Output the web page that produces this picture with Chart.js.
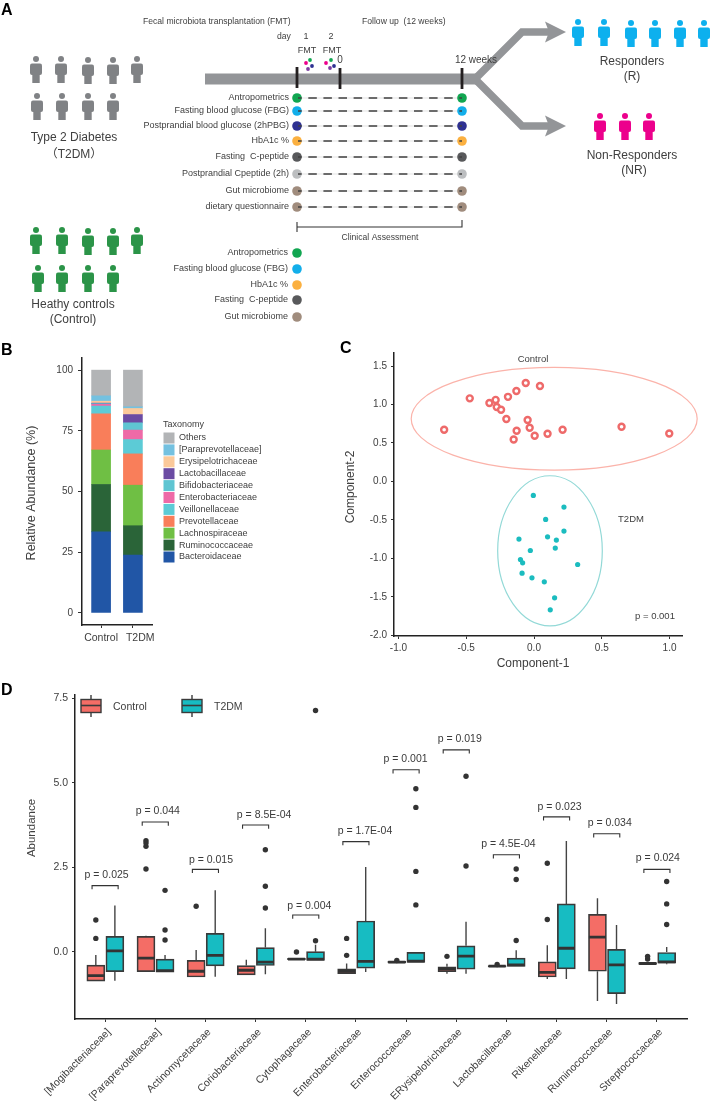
<!DOCTYPE html>
<html lang="en">
<head>
  <meta charset="UTF-8">
  <title>FMT study overview</title>
  <script src="https://cdn.jsdelivr.net/npm/chart.js"></script>
  <style>
    html, body { margin: 0; padding: 0; background: #fff; }
    #page { position: relative; width: 710px; height: 1101px; overflow: hidden; }
    canvas { position: absolute; }
  </style>
</head>
<body>
  <div id="page">
    <canvas id="panelA" width="710" height="335" style="left:0;top:0"></canvas>
    <canvas id="panelB" width="340" height="330" style="left:0;top:335px"></canvas>
    <canvas id="panelC" width="370" height="345" style="left:340px;top:335px"></canvas>
    <canvas id="panelD" width="710" height="421" style="left:0;top:680px"></canvas>
  </div>
  <script>
    const FONT = '"Liberation Sans", "Noto Sans CJK SC", Arial, sans-serif';
    const TEXT = '#404040';

    // panel A
    const t2dmPeople = [[36, 70], [61, 70], [88, 71], [113, 71], [137, 70], [37, 107], [62, 107], [88, 107], [113, 107]];
    const controlPeople = [[36, 241], [62, 241], [88, 242], [113, 242], [137, 241], [38, 279], [62, 279], [88, 279], [113, 279]];
    const responderPeople = [[578, 33], [604, 33], [631, 34], [655, 34], [680, 34], [704, 34]];
    const nonResponderPeople = [[600, 127], [625, 127], [649, 127]];
    const visitLabels = ['Antropometrics', 'Fasting blood glucose (FBG)', 'Postprandial blood glucose (2hPBG)', 'HbA1c %', 'Fasting  C-peptide', 'Postprandial Cpeptide (2h)', 'Gut microbiome', 'dietary questionnaire'];
    const visitRows = [98, 111, 126, 141, 157, 174, 191, 207];
    const visitColors = ['#11a651', '#12aeea', '#2e3192', '#fbb040', '#58595b', '#bcbec0', '#a08c7d', '#a08c7d'];
    const baselineLabels = ['Antropometrics', 'Fasting blood glucose (FBG)', 'HbA1c %', 'Fasting  C-peptide', 'Gut microbiome'];
    const baselineRows = [253, 269, 285, 300, 317];
    const baselineColors = ['#11a651', '#12aeea', '#fbb040', '#58595b', '#a08c7d'];
    const timelineTicks = [[297, 67, 88], [340, 68, 89], [462, 68, 89]];
    const pillPoints = [[306, 63], [310, 60], [308, 69], [312, 66], [326, 63], [331, 60], [330, 68], [334, 66]];
    const pillColors = ['#ec008c', '#11a651', '#7b3fa0', '#2e3192', '#ec008c', '#11a651', '#7b3fa0', '#2e3192'];

    // panel B
    const abundanceGroups = ['Control', 'T2DM'];
    const taxa = ['Bacteroidaceae', 'Ruminococcaceae', 'Lachnospiraceae', 'Prevotellaceae', 'Veillonellaceae', 'Enterobacteriaceae', 'Bifidobacteriaceae', 'Lactobacillaceae', 'Erysipelotrichaceae', '[Paraprevotellaceae]', 'Others'];
    const taxaControl = [33.4, 19.5, 14.2, 14.9, 3.2, 0.7, 0.3, 0.2, 0.8, 2.2, 10.6];
    const taxaT2dm = [23.8, 12.1, 16.7, 12.9, 5.9, 3.9, 3.0, 3.4, 2.5, 0.7, 15.1];
    const taxaColors = ['#2156a6', '#2a6438', '#6fbf44', '#f97e5a', '#5ccbd6', '#ee6aa7', '#5fc5d2', '#6b4ba3', '#fbc99a', '#74c1e0', '#b2b4b6'];

    // panel C
    const controlX = [-0.663, -0.474, -0.329, -0.283, -0.275, -0.243, -0.192, -0.204, -0.13, -0.061, 0.044, -0.047, -0.032, -0.128, -0.15, 0.005, 0.10, 0.211, 0.646, 0.998];
    const controlY = [0.672, 1.08, 1.02, 1.06, 0.967, 0.932, 1.10, 0.811, 1.175, 1.279, 1.24, 0.798, 0.698, 0.659, 0.546, 0.594, 0.62, 0.672, 0.711, 0.624];
    const t2dmX = [-0.005, 0.221, 0.086, 0.221, -0.111, 0.10, 0.165, 0.157, -0.027, -0.10, -0.084, 0.322, -0.088, -0.015, 0.076, 0.152, 0.12];
    const t2dmY = [-0.182, -0.334, -0.494, -0.646, -0.75, -0.72, -0.763, -0.867, -0.898, -1.015, -1.058, -1.08, -1.193, -1.253, -1.305, -1.513, -1.67];
    const controlEllipse = [0.149, 0.815, 1.055, 0.668];
    const t2dmEllipse = [0.118, -0.902, 0.386, 0.976];

    // panel D
    const families = ['[Mogibacteriaceae]', '[Paraprevotellaceae]', 'Actinomycetaceae', 'Coriobacteriaceae', 'Cytophagaceae', 'Enterobacteriaceae', 'Enterococcaceae', 'ERysipelotrichaceae', 'Lactobacillaceae', 'Rikenellaceae', 'Ruminococcaceae', 'Streptococcaceae'];
    const ctlLow = [-0.86, -0.58, -0.74, -0.68, -0.23, -0.64, -0.32, -0.64, -0.44, -0.80, -1.45, -0.37];
    const ctlQ1 = [-0.86, -0.58, -0.74, -0.68, -0.23, -0.64, -0.32, -0.58, -0.44, -0.74, -0.57, -0.37];
    const ctlMed = [-0.70, -0.18, -0.57, -0.54, -0.21, -0.57, -0.30, -0.50, -0.42, -0.60, 0.44, -0.34];
    const ctlQ3 = [-0.39, 0.46, -0.25, -0.40, -0.19, -0.50, -0.28, -0.44, -0.40, -0.29, 1.11, -0.31];
    const ctlHigh = [-0.09, 0.48, 0.06, -0.23, -0.19, -0.34, -0.28, -0.35, -0.38, 0.20, 1.59, -0.31];
    const ctlOut = [[0.40, 0.945], [2.45, 3.12, 3.22, 3.29], [1.35], [], [0.0], [-0.10, 0.40], [-0.25], [-0.13], [-0.37], [0.96, 2.62], [], [-0.21, -0.13]];
    const t2dLow = [-0.85, -0.60, -0.73, -0.66, -0.25, -0.59, -0.31, -0.64, -0.43, -0.80, -1.54, -0.36];
    const t2dQ1 = [-0.58, -0.60, -0.41, -0.40, -0.25, -0.48, -0.31, -0.51, -0.43, -0.50, -1.23, -0.33];
    const t2dMed = [0.03, -0.55, -0.10, -0.30, -0.21, -0.28, -0.27, -0.12, -0.38, 0.11, -0.38, -0.29];
    const t2dQ3 = [0.46, -0.21, 0.55, 0.13, 0.01, 0.915, -0.01, 0.18, -0.18, 1.42, 0.08, 0.0];
    const t2dHigh = [1.37, -0.09, 1.82, 0.70, 0.21, 2.51, -0.01, 0.89, 0.05, 3.28, 0.80, 0.15];
    const t2dOut = [[], [0.354, 0.65, 1.82], [], [1.30, 1.94, 3.02], [0.33, 7.13], [], [1.39, 2.38, 4.27, 4.82], [2.54, 5.19], [0.34, 2.14, 2.45], [], [], [0.81, 1.42, 2.08]];
    const pValues = ['p = 0.025', 'p = 0.044', 'p = 0.015', 'p = 8.5E-04', 'p = 0.004', 'p = 1.7E-04', 'p = 0.001', 'p = 0.019', 'p = 4.5E-04', 'p = 0.023', 'p = 0.034', 'p = 0.024'];
    const bracketY = [1.96, 3.84, 2.44, 3.75, 1.09, 3.26, 5.38, 5.97, 2.87, 3.99, 3.49, 2.44];
    const pLabelY = [2.26, 4.15, 2.72, 4.05, 1.35, 3.57, 5.69, 6.30, 3.18, 4.28, 3.82, 2.76];
    const pLabelShift = [0.03, 0.05, 0.11, 0.17, 0.07, 0.18, -0.01, 0.07, 0.04, 0.06, 0.06, 0.02];

    function xy(pairs) {
      return pairs.map(p => ({ x: p[0], y: p[1] }));
    }

    // canvas images used as point styles
    function personIcon(color) {
      const c = document.createElement('canvas');
      c.width = 14; c.height = 28;
      const g = c.getContext('2d');
      g.fillStyle = color;
      g.beginPath(); g.arc(7, 3, 3, 0, Math.PI * 2); g.fill();
      g.beginPath(); g.roundRect(1, 7.5, 12, 11.5, 2); g.fill();
      g.fillRect(3.3, 17, 7.4, 10);
      return c;
    }

    function arrowIcon() {
      const c = document.createElement('canvas');
      c.width = 22; c.height = 22;
      const g = c.getContext('2d');
      g.fillStyle = '#939598';
      g.beginPath();
      g.moveTo(0, 0.5); g.lineTo(21, 11); g.lineTo(0, 21.5); g.lineTo(4, 11);
      g.closePath(); g.fill();
      return c;
    }

    function peopleSet(points, color) {
      return { data: xy(points), pointStyle: personIcon(color), pointRadius: 5, clip: false };
    }

    function lineSet(points, color, width, extra) {
      return Object.assign({
        data: points, showLine: true, borderColor: color, borderWidth: width,
        pointRadius: 0, borderJoinStyle: 'miter', borderCapStyle: 'butt', tension: 0
      }, extra || {});
    }

    // text drawn on the finished chart, position in canvas pixels
    function textPlugin(notes) {
      return {
        id: 'notes',
        afterDraw(chart) {
          const ctx = chart.ctx;
          notes.forEach(n => {
            ctx.save();
            ctx.translate(n.x, n.y);
            if (n.rot) ctx.rotate(n.rot * Math.PI / 180);
            ctx.font = (n.bold ? 'bold ' : '') + (n.size || 9) + 'px ' + FONT;
            ctx.fillStyle = n.color || TEXT;
            ctx.textAlign = n.align || 'center';
            ctx.textBaseline = 'middle';
            ctx.fillText(n.text, 0, 0);
            ctx.restore();
          });
        }
      };
    }

    function fixedTicks(values) {
      return scale => { scale.ticks = values.map(v => ({ value: v })); };
    }

    function axis(extra) {
      return Object.assign({
        type: 'linear',
        offset: false,
        border: { display: true, color: '#222', width: 1.5 },
        grid: { offset: false, drawOnChartArea: false, drawTicks: true, tickLength: 3, color: '#333', lineWidth: 1 },
      }, extra);
    }

    function baseOptions(padding) {
      return {
        responsive: false,
        animation: false,
        events: [],
        layout: { padding: padding, autoPadding: false },
        plugins: { legend: { display: false }, tooltip: { enabled: false } }
      };
    }

    // ---------- A: study design
    const aDots = visitRows.flatMap(y => [[297, y], [462, y]]);
    const aDotColors = visitColors.flatMap(c => [c, c]);
    const dashRows = visitRows.flatMap(y => [{ x: 298, y: y }, { x: 462, y: y }, { x: 462, y: null }]);
    const aOptions = baseOptions(0);
    aOptions.scales = {
      x: { type: 'linear', display: false, min: 0, max: 710 },
      y: { type: 'linear', display: false, min: 0, max: 335, reverse: true }
    };
    const aNotes = [
      { text: 'A', x: 1, y: 11, size: 16, bold: true, align: 'left', color: '#000' },
      { text: 'Fecal microbiota transplantation (FMT)', x: 143, y: 22, size: 8.6, align: 'left' },
      { text: 'Follow up  (12 weeks)', x: 362, y: 22, size: 8.6, align: 'left' },
      { text: 'day', x: 277, y: 37, size: 8.6, align: 'left' },
      { text: '1', x: 306, y: 37, size: 9 }, { text: '2', x: 331, y: 37, size: 9 },
      { text: 'FMT', x: 307, y: 51, size: 9 }, { text: 'FMT', x: 332, y: 51, size: 9 },
      { text: '0', x: 340, y: 60, size: 10 }, { text: '12 weeks', x: 476, y: 60, size: 10 },
      { text: 'Clinical Assessment', x: 380, y: 238, size: 8.6 },
      { text: 'Type 2 Diabetes', x: 74, y: 138, size: 12 },
      { text: '（T2DM）', x: 74, y: 155, size: 12 },
      { text: 'Heathy controls', x: 73, y: 305, size: 12 },
      { text: '(Control)', x: 73, y: 320, size: 12 },
      { text: 'Responders', x: 632, y: 62, size: 12 },
      { text: '(R)', x: 632, y: 77, size: 12 },
      { text: 'Non-Responders', x: 632, y: 156, size: 12 },
      { text: '(NR)', x: 634, y: 171, size: 12 }
    ];
    visitLabels.forEach((t, i) => aNotes.push({ text: t, x: 289, y: visitRows[i], size: 9, align: 'right' }));
    baselineLabels.forEach((t, i) => aNotes.push({ text: t, x: 288, y: baselineRows[i], size: 9, align: 'right' }));

    new Chart(document.getElementById('panelA'), {
      type: 'scatter',
      data: {
        datasets: [
          { data: aDots.map(p => ({ x: p[0], y: p[1] })), pointBackgroundColor: aDotColors, pointBorderWidth: 0, pointRadius: 4.8, order: 2 },
          { data: xy(baselineRows.map(y => [297, y])), pointBackgroundColor: baselineColors, pointBorderWidth: 0, pointRadius: 4.8, order: 2 },
          { data: xy(pillPoints), pointBackgroundColor: pillColors, pointBorderWidth: 0, pointRadius: 1.9, order: 2 },
          lineSet(dashRows, '#404040', 1.4, { borderDash: [8.5, 6.6], borderDashOffset: 4.8, order: 1 }),
          lineSet(visitRows.flatMap(y => [{ x: 297, y: y }, { x: 462, y: y }, { x: 462, y: null }]), '#e3e3e3', 1, { order: 3 }),
          lineSet(timelineTicks.flatMap(t => [{ x: t[0], y: t[1] }, { x: t[0], y: t[2] }, { x: t[0], y: null }]), '#231f20', 2.8, { order: 1 }),
          lineSet(xy([[205, 79], [478, 79]]), '#939598', 11, { order: 5 }),
          lineSet(xy([[475, 79], [522, 32], [552, 32]]), '#939598', 7.5, { order: 5 }),
          lineSet(xy([[475, 79], [522, 126], [552, 126]]), '#939598', 7.5, { order: 5 }),
          { data: xy([[556, 32], [556, 126]]), pointStyle: arrowIcon(), pointRadius: 5, order: 4 },
          lineSet(xy([[297, 222], [297, 232], [297, 227], [462, 227], [462, 220]]), '#333', 1.1, { order: 1 }),
          peopleSet(t2dmPeople, '#808285'),
          peopleSet(controlPeople, '#2b9448'),
          peopleSet(responderPeople, '#0db0ee'),
          peopleSet(nonResponderPeople, '#ec008c')
        ]
      },
      options: aOptions,
      plugins: [textPlugin(aNotes)]
    });

    // ---------- B: stacked abundance
    const legendPlugin = {
      id: 'taxonomyLegend',
      afterDraw(chart) {
        const ctx = chart.ctx;
        ctx.save();
        ctx.font = '9px ' + FONT;
        ctx.textBaseline = 'middle';
        ctx.fillStyle = TEXT;
        ctx.fillText('Taxonomy', 163, 90);
        for (let i = taxa.length - 1, row = 0; i >= 0; i--, row++) {
          const y = 103 + row * 11.9;
          ctx.fillStyle = taxaColors[i];
          ctx.fillRect(163.5, y - 5.5, 11, 11);
          ctx.fillStyle = TEXT;
          ctx.fillText(taxa[i], 179, y);
        }
        ctx.restore();
      }
    };
    const bOptions = baseOptions({ left: 0, top: 23, right: 188, bottom: 0 });
    bOptions.scales = {
      x: axis({
        min: 0.4, max: 2.6, stacked: true,
        afterBuildTicks: fixedTicks([1, 2]),
        afterFit: s => { s.height = 40; },
        ticks: {
          autoSkip: false, color: TEXT, padding: 4, minRotation: 0, maxRotation: 0, font: { family: FONT, size: 10.5 },
          // the T2DM label sits a little right of its bar in the original
          callback: v => (v === 2 ? '     ' : '') + abundanceGroups[v - 1]
        }
      }),
      y: axis({
        min: -5, max: 105, stacked: true,
        afterBuildTicks: fixedTicks([0, 25, 50, 75, 100]),
        afterFit: s => { s.width = 82; },
        ticks: { color: TEXT, padding: 5, font: { family: FONT, size: 10 } },
        grid: { drawOnChartArea: false, drawTicks: true, tickLength: 4, color: '#333', lineWidth: 1 }
      })
    };
    new Chart(document.getElementById('panelB'), {
      type: 'bar',
      data: {
        datasets: taxa.map((name, i) => ({
          label: name,
          data: [{ x: 1, y: taxaControl[i] }, { x: 2, y: taxaT2dm[i] }],
          backgroundColor: taxaColors[i],
          borderWidth: 0,
          barThickness: 19
        }))
      },
      options: bOptions,
      plugins: [legendPlugin, textPlugin([
        { text: 'B', x: 1, y: 16, size: 16, bold: true, align: 'left', color: '#000' },
        { text: 'Relative Abundance (%)', x: 32, y: 158, size: 12.5, rot: -90 }
      ])]
    });

    // ---------- C: ordination
    const ellipsePlugin = {
      id: 'ellipses',
      beforeDatasetsDraw(chart) {
        const ctx = chart.ctx, sx = chart.scales.x, sy = chart.scales.y;
        [[controlEllipse, '#fbb3aa'], [t2dmEllipse, '#93d9d7']].forEach(([e, color]) => {
          const cx = sx.getPixelForValue(e[0]), cy = sy.getPixelForValue(e[1]);
          const rx = sx.getPixelForValue(e[0] + e[2]) - cx, ry = cy - sy.getPixelForValue(e[1] + e[3]);
          ctx.save();
          ctx.strokeStyle = color;
          ctx.lineWidth = 1.2;
          ctx.beginPath();
          ctx.ellipse(cx, cy, rx, ry, 0, 0, Math.PI * 2);
          ctx.stroke();
          ctx.restore();
        });
      }
    };
    const cOptions = baseOptions({ left: 0, top: 18, right: 28, bottom: 0 });
    cOptions.scales = {
      x: axis({
        min: -1.033, max: 1.092,
        afterBuildTicks: fixedTicks([-1, -0.5, 0, 0.5, 1]),
        afterFit: s => { s.height = 44; },
        ticks: { autoSkip: false, color: TEXT, padding: 3, font: { family: FONT, size: 10 }, callback: v => v.toFixed(1) }
      }),
      y: axis({
        min: -2.01, max: 1.67,
        afterBuildTicks: fixedTicks([-2, -1.5, -1, -0.5, 0, 0.5, 1, 1.5]),
        afterFit: s => { s.width = 54; },
        ticks: { autoSkip: false, color: TEXT, padding: 4, font: { family: FONT, size: 10 }, callback: v => v.toFixed(1) }
      })
    };
    new Chart(document.getElementById('panelC'), {
      type: 'scatter',
      data: {
        datasets: [
          { label: 'Control', data: controlX.map((x, i) => ({ x: x, y: controlY[i] })), pointBackgroundColor: '#fff', pointBorderColor: '#ee6a6a', pointBorderWidth: 2.4, pointRadius: 3 },
          { label: 'T2DM', data: t2dmX.map((x, i) => ({ x: x, y: t2dmY[i] })), pointBackgroundColor: '#1bbcbf', pointBorderWidth: 0, pointRadius: 2.6 }
        ]
      },
      options: cOptions,
      plugins: [ellipsePlugin, textPlugin([
        { text: 'C', x: 0, y: 14, size: 16, bold: true, align: 'left', color: '#000' },
        { text: 'Control', x: 193, y: 24, size: 9.5 },
        { text: 'T2DM', x: 291, y: 184, size: 9.5 },
        { text: 'p = 0.001', x: 315, y: 281, size: 9.5 },
        { text: 'Component-2', x: 11, y: 152, size: 12, rot: -90 },
        { text: 'Component-1', x: 193, y: 329, size: 12 }
      ])]
    });

    // ---------- D: boxplots
    const groups = [
      { color: '#f46d66', shift: -0.185, low: ctlLow, q1: ctlQ1, med: ctlMed, q3: ctlQ3, high: ctlHigh, out: ctlOut },
      { color: '#17bcc2', shift: 0.195, low: t2dLow, q1: t2dQ1, med: t2dMed, q3: t2dQ3, high: t2dHigh, out: t2dOut }
    ];
    const boxSets = [];
    groups.forEach(g => {
      boxSets.push({
        type: 'bar',
        data: families.map((f, i) => ({ x: i + 1 + g.shift, y: [g.q1[i], g.q3[i]] })),
        backgroundColor: g.color, borderColor: '#3a3a3a', borderWidth: 1.7, borderSkipped: false,
        barThickness: 18, grouped: false, order: 2
      });
      boxSets.push(Object.assign(lineSet(families.flatMap((f, i) => [
        { x: i + 1 + g.shift, y: g.low[i] }, { x: i + 1 + g.shift, y: g.q1[i] }, { x: i + 1 + g.shift, y: null },
        { x: i + 1 + g.shift, y: g.q3[i] }, { x: i + 1 + g.shift, y: g.high[i] }, { x: i + 1 + g.shift, y: null }
      ]), '#444', 1.4, { order: 3 }), { type: 'scatter' }));
      boxSets.push(Object.assign(lineSet(families.flatMap((f, i) => [
        { x: i + 1 + g.shift - 0.17, y: g.med[i] }, { x: i + 1 + g.shift + 0.17, y: g.med[i] }, { x: i + 1 + g.shift, y: null }
      ]), '#333', 2.8, { order: 1 }), { type: 'scatter' }));
      boxSets.push({
        type: 'scatter',
        data: g.out.flatMap((vals, i) => vals.map(v => ({ x: i + 1 + g.shift, y: v }))),
        pointBackgroundColor: '#333', pointBorderWidth: 0, pointRadius: 2.7, order: 1
      });
    });
    boxSets.push(Object.assign(lineSet(families.flatMap((f, i) => [
      { x: i + 0.74, y: bracketY[i] - 0.11 }, { x: i + 0.74, y: bracketY[i] }, { x: i + 1.26, y: bracketY[i] },
      { x: i + 1.26, y: bracketY[i] - 0.11 }, { x: i + 1.26, y: null }
    ]), '#333', 1.1, { order: 0 }), { type: 'scatter' }));

    const boxNotesPlugin = {
      id: 'boxNotes',
      afterDraw(chart) {
        const ctx = chart.ctx, sx = chart.scales.x, sy = chart.scales.y;
        ctx.save();
        ctx.font = '10.5px ' + FONT;
        ctx.textAlign = 'center';
        ctx.textBaseline = 'middle';
        ctx.fillStyle = '#3a3a3a';
        pValues.forEach((p, i) => {
          ctx.fillText(p, sx.getPixelForValue(i + 1 + pLabelShift[i]), sy.getPixelForValue(pLabelY[i]));
        });
        // legend keys
        [[81, 'Control', groups[0].color, 113], [182, 'T2DM', groups[1].color, 214]].forEach(([x, name, color, tx]) => {
          ctx.strokeStyle = '#3a3a3a';
          ctx.lineWidth = 1.4;
          ctx.beginPath();
          ctx.moveTo(x + 10, 15); ctx.lineTo(x + 10, 37);
          ctx.stroke();
          ctx.fillStyle = color;
          ctx.fillRect(x, 19.5, 20, 13);
          ctx.strokeRect(x, 19.5, 20, 13);
          ctx.lineWidth = 1.6;
          ctx.beginPath();
          ctx.moveTo(x, 25.5); ctx.lineTo(x + 20, 25.5);
          ctx.stroke();
          ctx.fillStyle = TEXT;
          ctx.textAlign = 'left';
          ctx.fillText(name, tx, 27);
        });
        ctx.restore();
      }
    };
    const dOptions = baseOptions({ left: 0, top: 15, right: 23, bottom: 0 });
    dOptions.scales = {
      x: axis({
        min: 0.4, max: 12.6,
        afterBuildTicks: fixedTicks(families.map((f, i) => i + 1)),
        afterFit: s => { s.height = 82; },
        ticks: {
          autoSkip: false, color: TEXT, padding: 4, minRotation: 45, maxRotation: 45, labelOffset: 4,
          font: { family: FONT, size: 10.5 }, callback: v => families[v - 1]
        }
      }),
      y: axis({
        min: -1.98, max: 7.59,
        afterBuildTicks: fixedTicks([0, 2.5, 5, 7.5]),
        afterFit: s => { s.width = 75; },
        ticks: { autoSkip: false, color: TEXT, padding: 4, font: { family: FONT, size: 10.5 }, callback: v => v.toFixed(1) }
      })
    };
    new Chart(document.getElementById('panelD'), {
      type: 'bar',
      data: { datasets: boxSets },
      options: dOptions,
      plugins: [boxNotesPlugin, textPlugin([
        { text: 'D', x: 1, y: 11, size: 16, bold: true, align: 'left', color: '#000' },
        { text: 'Abundance', x: 32, y: 148, size: 11.5, rot: -90 }
      ])]
    });
  </script>
</body>
</html>
